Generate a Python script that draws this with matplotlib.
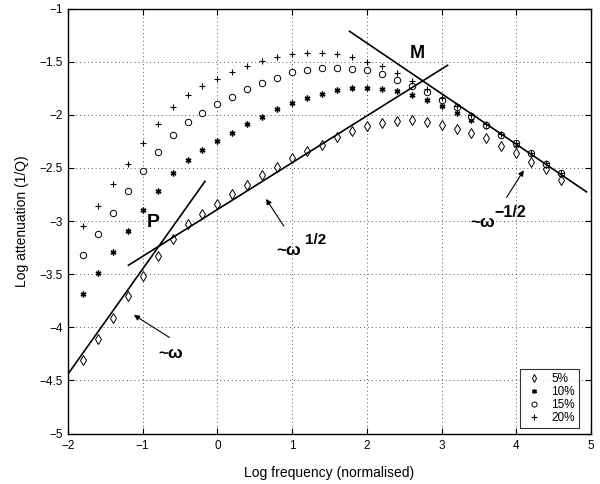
import matplotlib
matplotlib.use("Agg")
import matplotlib.pyplot as plt
import numpy as np

plt.rcParams['font.family'] = ['Liberation Sans', 'DejaVu Sans']
plt.rcParams['axes.unicode_minus'] = True

freq = [-1.8, -1.6, -1.4, -1.2, -1.0, -0.8, -0.6, -0.4, -0.2, 0.0, 0.2, 0.4,
        0.6, 0.8, 1.0, 1.2, 1.4, 1.6, 1.8, 2.0, 2.2, 2.4, 2.6, 2.8, 3.0, 3.2,
        3.4, 3.6, 3.8, 4.0, 4.2, 4.4, 4.6]

att_5 = [-4.31, -4.11, -3.91, -3.71, -3.52, -3.33, -3.17, -3.03, -2.93, -2.84, -2.75, -2.66,
         -2.57, -2.49, -2.41, -2.34, -2.28, -2.21, -2.15, -2.11, -2.08, -2.06, -2.05, -2.07,
         -2.10, -2.13, -2.17, -2.22, -2.29, -2.36, -2.44, -2.51, -2.61]
att_10 = [-3.69, -3.49, -3.29, -3.09, -2.90, -2.72, -2.55, -2.43, -2.33, -2.25, -2.17, -2.09,
          -2.02, -1.95, -1.89, -1.84, -1.80, -1.77, -1.75, -1.75, -1.76, -1.78, -1.81, -1.86,
          -1.92, -1.98, -2.05, -2.11, -2.19, -2.28, -2.37, -2.47, -2.56]
att_15 = [-3.32, -3.12, -2.92, -2.72, -2.53, -2.35, -2.19, -2.07, -1.98, -1.90, -1.83, -1.76,
          -1.70, -1.65, -1.60, -1.58, -1.56, -1.56, -1.57, -1.58, -1.62, -1.67, -1.73, -1.79,
          -1.86, -1.93, -2.01, -2.10, -2.19, -2.27, -2.36, -2.46, -2.55]
att_20 = [-3.05, -2.86, -2.65, -2.46, -2.27, -2.09, -1.93, -1.81, -1.73, -1.66, -1.60, -1.54,
          -1.49, -1.46, -1.43, -1.42, -1.42, -1.43, -1.46, -1.50, -1.54, -1.61, -1.68, -1.76,
          -1.84, -1.92, -2.00, -2.09, -2.18, -2.27, -2.36, -2.45, -2.55]

labels = ['5%', '10%', '15%', '20%']

# asymptote lines (endpoints)
line_w1_x = [-2.0, -0.16]
line_w1_y = [-4.44, -2.62]
line_wh_x = [-1.20, 3.09]
line_wh_y = [-3.42, -1.53]
line_wmh_x = [1.76, 4.95]
line_wmh_y = [-1.21, -2.73]

fig = plt.figure(figsize=(6.0, 4.84), dpi=100)
ax = fig.add_axes([0.1133, 0.1043, 0.8717, 0.878])

ax.plot(freq, att_5, linestyle='none', marker='d', markersize=5.2,
        markerfacecolor='white', markeredgecolor='black', markeredgewidth=0.7, label=labels[0])
ax.plot(freq, att_10, linestyle='none', marker=(6, 2, 0), markersize=4.2,
        color='black', markeredgewidth=1.0, label=labels[1])
ax.plot(freq, att_15, linestyle='none', marker='o', markersize=4.6,
        markerfacecolor='white', markeredgecolor='black', markeredgewidth=0.7, label=labels[2])
ax.plot(freq, att_20, linestyle='none', marker='+', markersize=4.6,
        color='black', markeredgewidth=0.8, label=labels[3])

for lx, ly in [(line_w1_x, line_w1_y), (line_wh_x, line_wh_y), (line_wmh_x, line_wmh_y)]:
    ax.plot(lx, ly, color='black', linewidth=1.2, solid_capstyle='butt')

ax.set_xlim(-2, 5)
ax.set_ylim(-5, -1)
ax.set_xticks(np.arange(-2, 6, 1))
ax.set_yticks(np.arange(-5, -0.9, 0.5))
ax.set_xticklabels(['\u22122', '\u22121', '0', '1', '2', '3', '4', '5'])
ax.set_yticklabels(['\u22125', '\u22124.5', '\u22124', '\u22123.5', '\u22123',
                    '\u22122.5', '\u22122', '\u22121.5', '\u22121'])
ax.tick_params(direction='in', length=4, width=0.8, labelsize=8.5, top=True, right=True,
               labeltop=False, labelright=False)
ax.tick_params(axis='x', pad=5)
ax.grid(True, linestyle=(0, (1, 3)), color='#555555', linewidth=0.7)
for s in ax.spines.values():
    s.set_linewidth(1.0)

ax.set_xlabel('Log frequency (normalised)', fontsize=10, labelpad=10)
ax.set_ylabel('Log attenuation (1/Q)', fontsize=10, labelpad=8)

ax.text(-0.862, -3.014, 'P', fontsize=14, fontweight='bold', ha='center', va='center')
ax.text(2.678, -1.426, 'M', fontsize=13, fontweight='bold', ha='center', va='center')

arrow = dict(arrowstyle='-|>', color='black', linewidth=0.8, mutation_scale=8)
ax.annotate('', xy=(-1.15, -3.87), xytext=(-0.61, -4.11), arrowprops=arrow)
ax.annotate('', xy=(0.63, -2.77), xytext=(0.91, -3.07), arrowprops=arrow)
ax.annotate('', xy=(4.12, -2.50), xytext=(3.85, -2.80), arrowprops=arrow)

ax.text(-0.63, -4.286, '~\u03c9', fontsize=12.5, fontweight='bold', ha='center', va='baseline')
ax.text(0.952, -3.319, '~\u03c9', fontsize=12.5, fontweight='bold', ha='center', va='baseline')
ax.text(1.17, -3.216, '1/2', fontsize=11, fontweight='bold', ha='left', va='baseline')
ax.text(3.556, -3.056, '~\u03c9', fontsize=12.5, fontweight='bold', ha='center', va='baseline')
ax.text(3.71, -2.962, '\u22121/2', fontsize=11.5, fontweight='bold', ha='left', va='baseline')

leg = ax.legend(loc='lower right', bbox_to_anchor=(0.9776, 0.0129), fontsize=8.5,
                frameon=True, fancybox=False, edgecolor='black', borderpad=0.35,
                labelspacing=0.08, handlelength=1.7, handletextpad=0.6,
                borderaxespad=0, markerscale=0.8)
leg.get_frame().set_linewidth(0.8)

fig.savefig('out.png', dpi=100)
